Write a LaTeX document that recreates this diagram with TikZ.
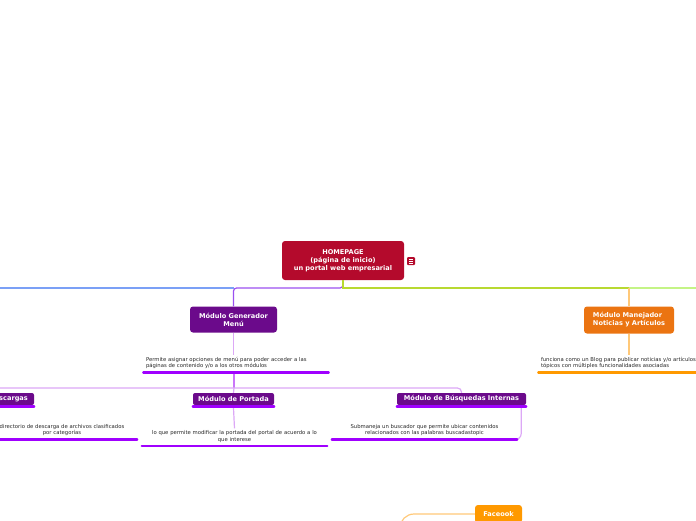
\documentclass[tikz,border=0pt]{standalone}
\usepackage{fontspec}
\setmainfont{DejaVu Sans}
\usetikzlibrary{calc}
\definecolor{rootred}{HTML}{B40A2C}
\definecolor{genpurple}{HTML}{6B0A8B}
\definecolor{barpurple}{HTML}{A000FF}
\definecolor{linepurple}{HTML}{9B50F0}
\definecolor{softpurple}{HTML}{DCA8F6}
\definecolor{lineblue}{HTML}{7BA0F6}
\definecolor{linegreen}{HTML}{B8D931}
\definecolor{softgreen}{HTML}{C4F486}
\definecolor{boxorange}{HTML}{EB7411}
\definecolor{barorange}{HTML}{FF9900}
\definecolor{softorange}{HTML}{FFC878}
\tikzset{
 topic/.style={rounded corners=3pt,text=white,font=\fontsize{6.6}{8}\selectfont\bfseries,align=center,inner sep=2pt},
 subtopic/.style={topic,fill=genpurple,minimum height=12pt,rounded corners=2pt},
 note/.style={font=\fontsize{5.3}{6.6}\selectfont,text=black!85,minimum width=185pt,text width=180pt,inner sep=2pt},
 ubar/.style={line width=2.5pt,line cap=round},
 link/.style={line width=1.2pt}
}

\begin{document}
\begin{tikzpicture}[x=1pt,y=-1pt]
\useasboundingbox (0,0) rectangle (696,520);
\clip (0,0) rectangle (696,520);
\node [topic,fill=rootred,minimum width=122pt,minimum height=39pt] (root) at (343,260.5) {HOMEPAGE\\(página de inicio)\\un portal web empresarial};
 \node [fill=rootred,rounded corners=1pt,minimum size=8pt,inner sep=0pt] (icon) at (411,261) {};
 \node [topic,fill=genpurple,minimum width=87pt,minimum height=26pt] (gen) at (233.5,319.5) {Módulo Generador\\Menú};
 \node [topic,fill=boxorange,minimum width=90pt,minimum height=27pt,align=left] (news) at (629,320) {Módulo Manejador\\Noticias y Artículos};
 \node [topic,fill=barorange,minimum width=47pt,minimum height=18pt] (fb) at (498.5,514) {Faceook};
 \node [subtopic,minimum width=92pt] (desc) at (-12,399) {Módulo de Descargas};
 \node [subtopic,minimum width=81pt] (port) at (233.5,399) {Módulo de Portada};
 \node [subtopic,minimum width=129pt] (bus) at (461.5,399) {Módulo de Búsquedas Internas};
\node [note,align=left] (gennote) at (236,363) {Permite asignar opciones de menú para poder acceder a las\\páginas de contenido y/o a los otros módulos};
 \node [note,align=left] (newsnote) at (631,363) {funciona como un Blog para publicar noticias y/o artículos\\tópicos con múltiples funcionalidades asociadas};
 \node [note,align=center,minimum width=150pt,text width=142pt] (descnote) at (62,430) {directorio de descarga de archivos clasificados\\por categorías};
 \node [note,align=center] (portnote) at (234.5,436.5) {lo que permite modificar la portada del portal de acuerdo a lo\\que interese};
 \node [note,align=center] (busnote) at (424.5,430) {Submaneja un buscador que permite ubicar contenidos\\relacionados con las palabras buscadastopic};
\coordinate (hub) at (343,288);
 \coordinate (west) at (-10,288);
 \coordinate (east) at (710,288);
 \coordinate (row) at (234,388);
 \coordinate (fbend) at (400,560);
\foreach \d in {-2,0,2}
 \draw [white,line width=0.6pt] ([xshift=-2.2pt,yshift=\d pt]icon.center) -- ([xshift=2.2pt,yshift=\d pt]icon.center);
\draw [linepurple,link,rounded corners=3pt] (root.south) -- (hub) -| (gen.north);
 \draw [lineblue,link] (gen.north |- hub) -- (west);
 \draw [linegreen,link] (root.south) -- (hub) -- (news.north |- hub);
 \draw [softgreen,link] (news.north |- hub) -- (east);
 \draw [softorange,link] (news.north |- hub) -- (news.north);
 \draw [softorange,link] (news.south) -- (newsnote.north -| news.south);
 \draw [softpurple,link] (gen.south) -- (gennote.north -| gen.south);
 \draw [softpurple!70!barpurple,link] ([yshift=-1.5pt]gennote.south -| row) -- (row);
 \draw [softpurple,link,rounded corners=4pt] (row) -| (bus.north);
 \draw [softpurple,link,rounded corners=4pt] (row) -| (desc.north);
 \draw [softpurple,link] (row) -- (port.north);
 \draw [softpurple,link] ([yshift=-3pt]port.south) -- (portnote.north);
 \draw [softpurple,link,rounded corners=6pt] ([xshift=-5pt,yshift=-3pt]bus.south east) |- ([yshift=-1.5pt]busnote.south east);
 \draw [softorange,link,rounded corners=14pt] (fb.west) -| (fbend);
\draw [ubar,barpurple] ([yshift=-1.5pt]desc.south west) -- ([yshift=-1.5pt]desc.south east);
 \draw [ubar,barpurple] ([yshift=-1.5pt]port.south west) -- ([yshift=-1.5pt]port.south east);
 \draw [ubar,barpurple] ([yshift=-1.5pt]bus.south west) -- ([yshift=-1.5pt]bus.south east);
 \draw [ubar,barpurple] ([yshift=-1.5pt]gennote.south west) -- ([yshift=-1.5pt]gennote.south east);
 \draw [ubar,barpurple] ([yshift=-1.5pt]descnote.south west) -- ([yshift=-1.5pt]descnote.south east);
 \draw [ubar,barpurple] ([yshift=-1.5pt]portnote.south west) -- ([yshift=-1.5pt]portnote.south east);
 \draw [ubar,barpurple] ([yshift=-1.5pt]busnote.south west) -- ([yshift=-1.5pt]busnote.south east);
 \draw [ubar,barorange] ([yshift=-1.5pt]newsnote.south west) -- ([yshift=-1.5pt]newsnote.south east);
\end{tikzpicture}
\end{document}
